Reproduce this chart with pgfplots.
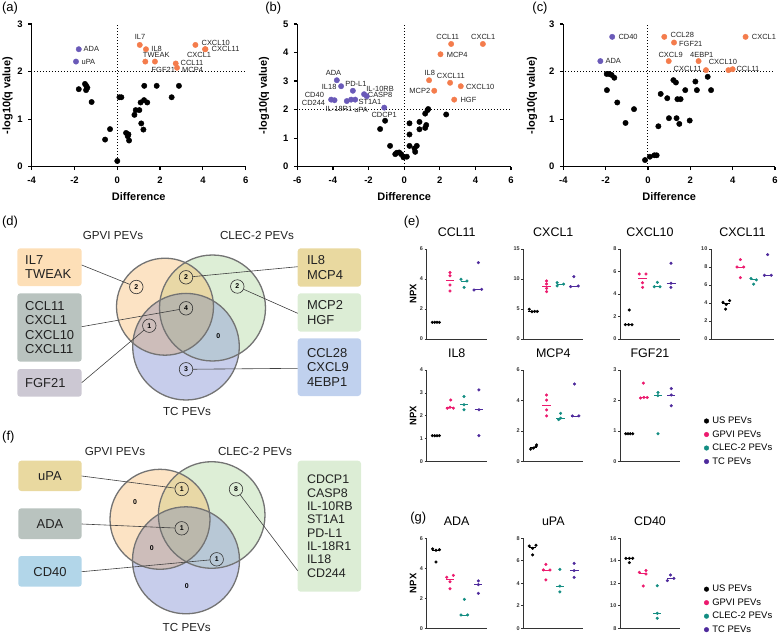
\documentclass[border=0pt]{standalone}
\usepackage{pgfplots}
\pgfplotsset{compat=1.18}
\usepackage{fontspec}
\setmainfont{Liberation Sans}

\definecolor{vor}{HTML}{F47C4C}
\definecolor{vpu}{HTML}{6A5AB8}
\definecolor{gpvi}{HTML}{EC1A6E}
\definecolor{clec}{HTML}{138D82}
\definecolor{tcpu}{HTML}{4E2A9C}
\definecolor{vA}{HTML}{FCE3C4}
\definecolor{vB}{HTML}{DDEED6}
\definecolor{vC}{HTML}{C7CDEB}
\definecolor{vAB}{HTML}{E8D8A6}
\definecolor{vAC}{HTML}{CDBDBA}
\definecolor{vBC}{HTML}{B8C8D6}
\definecolor{vABC}{HTML}{BBB8AC}
\definecolor{bxpeach}{HTML}{FDDFB7}
\definecolor{bxgray}{HTML}{B9C3BF}
\definecolor{bxlav}{HTML}{CCC8D3}
\definecolor{bxkhaki}{HTML}{E9D9A0}
\definecolor{bxgreen}{HTML}{DCEDD5}
\definecolor{bxblue}{HTML}{C0D1EE}
\definecolor{bxsky}{HTML}{B2D6E9}
\definecolor{txt}{HTML}{222222}

\newcommand{\fs}[2]{\fontsize{#1}{#2}\selectfont}

\tikzset{gl/.style={font=\fs{7.5}{8}, text=txt, inner sep=0pt}}

\pgfplotsset{
  volc/.style={scale only axis, anchor=south west, axis lines=left,
    axis line style={-, line width=1.2bp}, tick align=outside,
    major tick length=3.5bp, tick style={line width=1.2bp, black},
    clip=false, /pgf/number format/assume math mode=true,
    tick label style={font=\fs{9.5}{10}\bfseries},
    xticklabel style={yshift=-3.5bp}, yticklabel style={xshift=-2bp},
    label style={font=\fs{11}{12}\bfseries},
    xlabel style={at={(axis description cs:0.5,0)}, anchor=base, yshift=-33.5bp}},
  vyl/.style={ylabel style={at={(axis description cs:#1,0.5)}, anchor=center}},
  vdot/.style={only marks, mark=*, mark size=2.7bp},
  vref/.style={black, line width=1bp, dash pattern=on 1bp off 2bp, no marks},
  dp/.style={scale only axis, anchor=south west, width=60bp, height=90bp,
    axis lines=left, axis line style={-, line width=0.9bp, black!80},
    xmin=0.35, xmax=4.6, xtick=\empty, ymin=0, tick align=outside,
    major tick length=2bp, tick style={line width=0.7bp, black!80},
    clip=false, /pgf/number format/assume math mode=true,
    yticklabel style={font=\fs{5.5}{6}\bfseries, text=black!80, inner sep=1.5bp},
    title style={font=\fs{12.5}{14}, at={(axis description cs:0.5,1)}, anchor=base, yshift=7bp}},
  npx/.style={ylabel=NPX, ylabel style={font=\fs{9.5}{10}\bfseries,
    at={(axis description cs:-0.228,0.5)}, anchor=center}},
  dpm/.style={only marks, mark=*, mark size=1.35bp},
  dpl/.style={no marks, line width=0.8bp, forget plot},
  dleg/.style={legend style={draw=none, fill=none, font=\fs{9.5}{11},
    row sep=3.4bp, column sep=2.5bp, inner sep=0pt, nodes={inner sep=1bp},
    cells={anchor=west}},
    legend image code/.code={\draw[##1, mark size=2.3bp] plot coordinates {(2bp,0bp)};}}
}

\begin{document}
\begin{tikzpicture}
\path[use as bounding box] (0,0) rectangle (780bp,-633bp);

% ---------------- Venn diagrams ----------------
\begin{scope}[x=1bp,y=-1bp]
\tikzset{numc/.style={circle, draw=black!80, line width=0.6bp, minimum size=13.5bp,
  inner sep=0pt, font=\fs{7}{8}\bfseries},
  conn/.style={line width=0.6bp, black!75},
  vline/.style={draw=black!55, line width=1.3bp},
  bxt/.style={anchor=west, align=left, font=\fs{13}{14.4}, text=txt},
  ttl/.style={font=\fs{11.7}{13}, text=txt}}
\node[font=\fs{13}{14}] at (10,8.3) {(a)};
\node[font=\fs{13}{14}] at (273.3,8.3) {(b)};
\node[font=\fs{13}{14}] at (540,8.3) {(c)};
\node[font=\fs{13}{14}] at (10,222) {(d)};
\node[font=\fs{13}{14}] at (411.7,221.7) {(e)};
\node[font=\fs{13}{14}] at (8.3,436.7) {(f)};
\node[font=\fs{13}{14}] at (418.3,518.3) {(g)};

% (d)
\fill[vA] (165,306.7) circle (48.5);
\fill[vB] (212.5,308) circle (53);
\fill[vC] (186,346.7) circle (53.3);
\begin{scope}\clip (212.5,308) circle (53); \fill[vBC] (186,346.7) circle (53.3);\end{scope}
\begin{scope}\clip (165,306.7) circle (48.5); \fill[vAB] (212.5,308) circle (53);
  \fill[vAC] (186,346.7) circle (53.3);
  \clip (212.5,308) circle (53); \fill[vABC] (186,346.7) circle (53.3);\end{scope}
\draw[vline] (165,306.7) circle (48.5);
\draw[vline] (212.5,308) circle (53);
\draw[vline] (186,346.7) circle (53.3);
\node[ttl] at (113,235) {GPVI PEVs};
\node[ttl] at (257,235) {CLEC-2 PEVs};
\node[ttl] at (187,411) {TC PEVs};
\node[numc] (d1) at (136.3,287) {2};
\node[numc] (d2) at (186,277.3) {2};
\node[numc] (d3) at (237.3,286.5) {2};
\node[numc] (d4) at (186,308.3) {4};
\node[numc] (d5) at (149.3,325.7) {1};
\node[font=\fs{7}{8}\bfseries] at (218.3,336) {0};
\node[numc] (d7) at (186,369.3) {3};
\fill[bxpeach, rounded corners=3bp] (17.3,248.3) rectangle (81.7,286);
\fill[bxgray, rounded corners=3bp] (17.3,293.3) rectangle (81.7,361.7);
\fill[bxlav, rounded corners=3bp] (17.3,369) rectangle (81.7,396.7);
\fill[bxkhaki, rounded corners=3bp] (297.7,248.3) rectangle (361,286.7);
\fill[bxgreen, rounded corners=3bp] (297.7,293.3) rectangle (361,331.7);
\fill[bxblue, rounded corners=3bp] (297.7,338.3) rectangle (361,396);
\node[bxt] at (21.7,267.2) {IL7\\TWEAK};
\node[bxt] at (21.7,327.5) {CCL11\\CXCL1\\CXCL10\\CXCL11};
\node[bxt] at (21.7,383) {FGF21};
\node[bxt] at (303.5,267.5) {IL8\\MCP4};
\node[bxt] at (303.5,312.5) {MCP2\\HGF};
\node[bxt] at (303.5,367.2) {CCL28\\CXCL9\\4EBP1};
\draw[conn] (81.7,265) -- (d1);
\draw[conn] (81.7,326.7) -- (d4);
\draw[conn] (81.7,382.7) -- (d5);
\draw[conn] (297.7,266.7) -- (d2);
\draw[conn] (297.7,313.3) -- (d3);
\draw[conn] (297.7,368.3) -- (d7);

% (f)
\fill[vA] (160,519.3) circle (50);
\fill[vB] (211.7,515) circle (53.3);
\fill[vC] (186,560.3) circle (53.5);
\begin{scope}\clip (211.7,515) circle (53.3); \fill[vBC] (186,560.3) circle (53.5);\end{scope}
\begin{scope}\clip (160,519.3) circle (50); \fill[vAB] (211.7,515) circle (53.3);
  \fill[vAC] (186,560.3) circle (53.5);
  \clip (211.7,515) circle (53.3); \fill[vABC] (186,560.3) circle (53.5);\end{scope}
\draw[vline] (160,519.3) circle (50);
\draw[vline] (211.7,515) circle (53.3);
\draw[vline] (186,560.3) circle (53.5);
\node[ttl] at (115,451.7) {GPVI PEVs};
\node[ttl] at (255,451.7) {CLEC-2 PEVs};
\node[ttl] at (186.7,627) {TC PEVs};
\node[numc] (f1) at (181.7,489) {1};
\node[numc] (f2) at (181.7,528.3) {1};
\node[numc] (f3) at (216.7,559.3) {1};
\node[numc] (f4) at (236,489.3) {8};
\node[font=\fs{7}{8}\bfseries] at (135,501.7) {0};
\node[font=\fs{7}{8}\bfseries] at (151.7,548.3) {0};
\node[font=\fs{7}{8}\bfseries] at (186.7,586) {0};
\fill[bxkhaki, rounded corners=3bp] (18.3,460.7) rectangle (81.7,491);
\fill[bxgray, rounded corners=3bp] (18.3,508.3) rectangle (81.7,539);
\fill[bxsky, rounded corners=3bp] (18.3,556) rectangle (81.7,586.7);
\fill[bxgreen, rounded corners=3bp] (297.7,460.7) rectangle (361,591.7);
\node[font=\fs{13}{14.4}, text=txt] at (50,476) {uPA};
\node[font=\fs{13}{14.4}, text=txt] at (50,524) {ADA};
\node[font=\fs{13}{14.4}, text=txt] at (50,571.7) {CD40};
\node[bxt, font=\fs{12.5}{13.4}] at (303.5,526.2) {CDCP1\\CASP8\\IL-10RB\\ST1A1\\PD-L1\\IL-18R1\\IL18\\CD244};
\draw[conn] (81.7,476) -- (f1);
\draw[conn] (81.7,524) -- (f2);
\draw[conn] (81.7,571.7) -- (f3);
\draw[conn] (297.7,570.7) -- (f4);
\end{scope}

% ---------------- (a) volcano ----------------
\begin{axis}[volc, vyl=-0.113, at={(31.7bp,-166.7bp)}, width=214bp, height=142.7bp,
  xmin=-4, xmax=6, ymin=0, ymax=3, xtick={-4,-2,0,2,4,6}, ytick={0,1,2,3},
  xlabel=Difference, ylabel={-log10(q value)}]
\addplot[vref] coordinates {(-3.9,2)(6,2)};
\addplot[vref] coordinates {(0,0)(0,3)};
\addplot[vdot, black] coordinates {(-1.80,1.63)(-1.51,1.74)(-1.45,1.70)(-1.40,1.66)(-1.46,1.61)
  (-1.20,1.36)(-0.34,0.79)(-0.57,0.57)(0.0,0.12)(0.10,1.46)(0.19,1.46)(0.41,0.71)(0.52,0.68)
  (0.49,0.64)(0.55,0.55)(0.80,1.09)(0.86,1.19)(1.03,1.19)(1.09,1.35)(1.25,1.40)(1.40,1.35)
  (1.26,1.70)(1.84,1.70)(2.88,1.70)(2.54,1.46)(1.12,0.91)(1.22,0.78)};
\addplot[vdot, vor] coordinates {(1.05,2.56)(1.34,2.47)(1.31,2.21)(1.76,2.21)(3.65,2.56)
  (4.10,2.47)(4.12,2.47)(2.73,2.17)(2.79,2.08)};
\addplot[vdot, vpu] coordinates {(-1.80,2.47)(-1.93,2.21)};
\node[gl] at (axis cs:1.06,2.73) {IL7};
\node[gl] at (axis cs:1.84,2.48) {IL8};
\node[gl] at (axis cs:1.82,2.35) {TWEAK};
\node[gl] at (axis cs:2.15,2.04) {FGF21};
\node[gl] at (axis cs:4.60,2.60) {CXCL10};
\node[gl] at (axis cs:5.06,2.47) {CXCL11};
\node[gl] at (axis cs:3.82,2.35) {CXCL1};
\node[gl] at (axis cs:3.49,2.19) {CCL11};
\node[gl] at (axis cs:3.52,2.04) {MCP4};
\node[gl] at (axis cs:-1.21,2.47) {ADA};
\node[gl] at (axis cs:-1.35,2.21) {uPA};
\end{axis}

% ---------------- (b) volcano ----------------
\begin{axis}[volc, vyl=-0.155, at={(297.3bp,-166.7bp)}, width=213.7bp, height=142.7bp,
  xmin=-6, xmax=6, ymin=0, ymax=5, xtick={-6,-4,-2,0,2,4,6}, ytick={0,1,2,3,4,5},
  xlabel=Difference, ylabel={-log10(q value)}]
\addplot[vref] coordinates {(-5.9,2)(6,2)};
\addplot[vref] coordinates {(0,0)(0,5)};
\addplot[vdot, black] coordinates {(-1.07,1.61)(-1.35,1.32)(-0.79,0.73)(-0.41,0.49)(-0.28,0.50)
  (-0.17,0.44)(-0.5,0.44)(-0.04,0.33)(0.15,0.35)(0.30,1.52)(0.30,1.13)(0.30,0.73)(0.58,0.64)
  (0.71,0.73)(0.62,0.52)(0.86,1.57)(0.86,1.31)(1.18,1.36)(1.24,1.46)(1.18,1.86)(1.31,1.98)
  (1.35,2.02)(2.36,1.83)};
\addplot[vdot, vor] coordinates {(2.64,4.30)(4.42,4.30)(2.04,3.94)(1.40,3.03)(2.58,2.94)
  (3.18,2.82)(1.69,2.66)(2.81,2.35)};
\addplot[vdot, vpu] coordinates {(-3.78,3.03)(-3.54,2.82)(-2.88,2.66)(-2.25,2.54)(-2.10,2.47)
  (-4.10,2.35)(-3.91,2.33)(-3.22,2.30)(-2.98,2.35)(-2.75,2.35)(-1.12,2.07)};
\node[gl] at (axis cs:-3.97,3.29) {ADA};
\node[gl] at (axis cs:-4.21,2.80) {IL18};
\node[gl] at (axis cs:-2.71,2.89) {PD-L1};
\node[gl] at (axis cs:-1.35,2.72) {IL-10RB};
\node[gl] at (axis cs:-1.35,2.50) {CASP8};
\node[gl] at (axis cs:-5.04,2.53) {CD40};
\node[gl] at (axis cs:-5.09,2.25) {CD244};
\node[gl] at (axis cs:-3.66,2.03) {IL-18R1};
\node[gl] at (axis cs:-2.42,1.98) {uPA};
\node[gl] at (axis cs:-1.92,2.27) {ST1A1};
\node[gl] at (axis cs:-1.12,1.81) {CDCP1};
\node[gl] at (axis cs:2.45,4.55) {CCL11};
\node[gl] at (axis cs:4.44,4.55) {CXCL1};
\node[gl] at (axis cs:2.98,3.93) {MCP4};
\node[gl] at (axis cs:1.44,3.29) {IL8};
\node[gl] at (axis cs:2.62,3.17) {CXCL11};
\node[gl] at (axis cs:4.27,2.80) {CXCL10};
\node[gl] at (axis cs:0.88,2.66) {MCP2};
\node[gl] at (axis cs:3.61,2.35) {HGF};
\end{axis}

% ---------------- (c) volcano ----------------
\begin{axis}[volc, vyl=-0.147, at={(563.3bp,-166.7bp)}, width=211.7bp, height=142.7bp,
  xmin=-4, xmax=6, ymin=0, ymax=3, xtick={-4,-2,0,2,4,6}, ytick={0,1,2,3},
  xlabel=Difference, ylabel={-log10(q value)}]
\addplot[vref] coordinates {(-3.9,2)(6,2)};
\addplot[vref] coordinates {(0,0)(0,3)};
\addplot[vdot, black] coordinates {(-1.95,1.95)(-1.83,1.95)(-1.72,1.93)(-1.59,1.87)(-1.94,1.61)
  (-1.45,1.35)(-0.66,1.21)(-1.06,0.92)(-0.14,0.14)(0.09,0.21)(0.30,0.24)(0.41,0.24)(0.49,0.85)
  (0.60,1.53)(0.91,1.44)(0.99,1.02)(1.20,1.82)(1.32,1.77)(1.39,1.42)(1.54,1.42)(1.35,1.02)
  (1.48,0.90)(1.76,1.61)(1.97,0.97)(2.24,1.79)(2.31,1.61)(2.82,1.89)(2.98,1.61)};
\addplot[vdot, vor] coordinates {(0.77,2.73)(1.23,2.61)(4.61,2.73)(0.98,2.22)(2.39,2.22)
  (2.74,2.03)(3.80,2.03)(4.0,2.05)};
\addplot[vdot, vpu] coordinates {(-1.69,2.73)(-2.25,2.22)};
\node[gl] at (axis cs:-0.94,2.73) {CD40};
\node[gl] at (axis cs:-1.64,2.22) {ADA};
\node[gl] at (axis cs:1.62,2.77) {CCL28};
\node[gl] at (axis cs:2.02,2.59) {FGF21};
\node[gl] at (axis cs:5.48,2.73) {CXCL1};
\node[gl] at (axis cs:1.07,2.35) {CXCL9};
\node[gl] at (axis cs:2.54,2.35) {4EBP1};
\node[gl] at (axis cs:3.54,2.21) {CXCL10};
\node[gl] at (axis cs:1.87,2.05) {CXCL11};
\node[gl] at (axis cs:4.72,2.05) {CCL11};
\end{axis}

% ---------------- (e) dot plots ----------------
\begin{axis}[dp, npx, at={(426.7bp,-339bp)}, ymax=6, ytick={0,2,4,6}, title=CCL11]
\addplot[dpm, black] coordinates {(0.75,1.11)(0.92,1.11)(1.08,1.11)(1.25,1.11)};
\addplot[dpm, gpvi] coordinates {(2,4.44)(2,4.22)(2,3.6)(2,3.2)};
\addplot[dpm, clec] coordinates {(2.78,3.98)(3.2,3.87)(3.0,3.44)};
\addplot[dpm, tcpu] coordinates {(4.01,5.09)(3.7,3.27)(4.24,3.31)};
\addplot[dpl, black] coordinates {(0.7,1.11)(1.3,1.11)};
\addplot[dpl, gpvi] coordinates {(1.7,3.91)(2.3,3.91)};
\addplot[dpl, clec] coordinates {(2.75,3.87)(3.25,3.87)};
\addplot[dpl, tcpu] coordinates {(3.7,3.31)(4.3,3.31)};
\end{axis}

\begin{axis}[dp, at={(523.3bp,-339bp)}, ymax=15, ytick={0,5,10,15}, title=CXCL1]
\addplot[dpm, black] coordinates {(0.77,4.95)(0.96,4.55)(1.15,4.6)(1.34,4.6)};
\addplot[dpm, gpvi] coordinates {(2,9.67)(2,9.17)(2,8.44)(2,7.89)};
\addplot[dpm, clec] coordinates {(2.75,9.4)(2.75,8.85)(3.2,9.15)};
\addplot[dpm, tcpu] coordinates {(3.93,10.39)(3.7,8.72)(4.24,8.83)};
\addplot[dpl, black] coordinates {(0.7,4.6)(1.35,4.6)};
\addplot[dpl, gpvi] coordinates {(1.7,8.8)(2.3,8.8)};
\addplot[dpl, clec] coordinates {(2.75,9.15)(3.2,9.15)};
\addplot[dpl, tcpu] coordinates {(3.7,8.8)(4.25,8.8)};
\end{axis}

\begin{axis}[dp, at={(620bp,-339bp)}, ymax=8, ytick={0,2,4,6,8}, title=CXCL10]
\addplot[dpm, black] coordinates {(1.01,2.58)(0.73,1.27)(0.96,1.27)(1.2,1.27)};
\addplot[dpm, gpvi] coordinates {(1.72,5.78)(2.19,5.78)(1.95,5.0)(1.95,4.59)};
\addplot[dpm, clec] coordinates {(3.0,5.04)(2.78,4.65)(3.18,4.65)};
\addplot[dpm, tcpu] coordinates {(3.96,6.73)(3.96,4.95)(3.96,4.59)};
\addplot[dpl, black] coordinates {(0.7,1.27)(1.25,1.27)};
\addplot[dpl, gpvi] coordinates {(1.65,5.35)(2.25,5.35)};
\addplot[dpl, clec] coordinates {(2.75,4.65)(3.22,4.65)};
\addplot[dpl, tcpu] coordinates {(3.65,4.95)(4.3,4.95)};
\end{axis}

\begin{axis}[dp, at={(711bp,-339bp)}, width=63bp, xmax=4.81, ymax=10, ytick={0,2,4,6,8,10}, title=CXCL11]
\addplot[dpm, black] coordinates {(1.2,4.09)(1.67,4.27)(1.43,3.83)(1.38,3.32)};
\addplot[dpm, gpvi] coordinates {(2.43,8.83)(2.19,8.0)(2.66,8.0)(2.43,6.82)};
\addplot[dpm, clec] coordinates {(3.18,6.72)(3.56,6.57)(3.37,6.09)};
\addplot[dpm, tcpu] coordinates {(4.36,9.38)(4.13,7.08)(4.62,7.08)};
\addplot[dpl, black] coordinates {(1.15,3.96)(1.7,3.96)};
\addplot[dpl, gpvi] coordinates {(2.13,8.0)(2.72,8.0)};
\addplot[dpl, clec] coordinates {(3.15,6.57)(3.6,6.57)};
\addplot[dpl, tcpu] coordinates {(4.1,7.08)(4.65,7.08)};
\end{axis}

\begin{axis}[dp, npx, at={(426.7bp,-461.5bp)}, height=91.5bp, ymax=4, ytick={0,1,2,3,4}, title=IL8]
\addplot[dpm, black] coordinates {(0.75,1.13)(0.92,1.13)(1.08,1.13)(1.25,1.13)};
\addplot[dpm, gpvi] coordinates {(1.81,2.33)(2.0,2.37)(2.24,2.33)(2.05,2.69)};
\addplot[dpm, clec] coordinates {(2.99,2.84)(2.99,2.48)(2.99,2.26)};
\addplot[dpm, tcpu] coordinates {(4.05,3.13)(4.05,2.26)(4.05,1.13)};
\addplot[dpl, black] coordinates {(0.7,1.13)(1.3,1.13)};
\addplot[dpl, gpvi] coordinates {(1.7,2.38)(2.3,2.38)};
\addplot[dpl, clec] coordinates {(2.7,2.48)(3.3,2.48)};
\addplot[dpl, tcpu] coordinates {(3.75,2.26)(4.35,2.26)};
\end{axis}

\begin{axis}[dp, at={(523.3bp,-461.5bp)}, height=91.5bp, ymax=6, ytick={0,2,4,6}, title=MCP4]
\addplot[dpm, black] coordinates {(0.87,0.81)(1.06,0.88)(1.25,0.98)(1.29,1.09)};
\addplot[dpm, gpvi] coordinates {(2,4.36)(2,4.03)(2,3.38)(2,2.99)};
\addplot[dpm, clec] coordinates {(2.99,3.16)(2.99,2.84)(2.85,2.75)};
\addplot[dpm, tcpu] coordinates {(3.98,5.08)(3.82,2.99)(4.29,2.99)};
\addplot[dpl, black] coordinates {(0.8,0.93)(1.3,0.93)};
\addplot[dpl, gpvi] coordinates {(1.7,3.65)(2.3,3.65)};
\addplot[dpl, clec] coordinates {(2.7,2.84)(3.3,2.84)};
\addplot[dpl, tcpu] coordinates {(3.75,2.99)(4.3,2.99)};
\end{axis}

\begin{axis}[dp, dleg, at={(620bp,-461.5bp)}, height=91.5bp, ymax=3, ytick={0,1,2,3}, title=FGF21,
  legend style={at={(1.4,0.50)}, anchor=north west}]
\addplot[dpm, black] coordinates {(0.75,0.91)(0.92,0.91)(1.08,0.91)(1.25,0.91)};
\addlegendentry{US PEVs}
\addplot[dpm, gpvi] coordinates {(2.0,2.57)(1.8,2.08)(2.04,2.1)(2.28,2.1)};
\addlegendentry{GPVI PEVs}
\addplot[dpm, clec] coordinates {(3.04,2.26)(3.04,2.16)(3.04,0.91)};
\addlegendentry{CLEC-2 PEVs}
\addplot[dpm, tcpu] coordinates {(3.98,2.39)(3.98,2.18)(3.98,1.83)};
\addlegendentry{TC PEVs}
\addplot[dpl, black] coordinates {(0.7,0.91)(1.3,0.91)};
\addplot[dpl, gpvi] coordinates {(1.75,2.09)(2.3,2.09)};
\addplot[dpl, clec] coordinates {(2.75,2.16)(3.3,2.16)};
\addplot[dpl, tcpu] coordinates {(3.7,2.18)(4.28,2.18)};
\end{axis}

% ---------------- (g) dot plots ----------------
\begin{axis}[dp, npx, at={(426.7bp,-628.3bp)}, ymax=6, ytick={0,2,4,6}, title=ADA]
\addplot[dpm, black] coordinates {(0.77,5.29)(1.01,5.2)(1.25,5.24)(1.01,4.42)};
\addplot[dpm, gpvi] coordinates {(1.77,3.4)(2.24,3.53)(2.0,3.11)(2.0,2.64)};
\addplot[dpm, clec] coordinates {(3.02,1.93)(2.78,0.89)(3.25,0.89)};
\addplot[dpm, tcpu] coordinates {(4.01,3.16)(4.01,2.91)(4.01,2.33)};
\addplot[dpl, black] coordinates {(0.7,5.22)(1.3,5.22)};
\addplot[dpl, gpvi] coordinates {(1.7,3.27)(2.3,3.27)};
\addplot[dpl, clec] coordinates {(2.75,0.89)(3.28,0.89)};
\addplot[dpl, tcpu] coordinates {(3.72,2.91)(4.3,2.91)};
\end{axis}

\begin{axis}[dp, at={(523.3bp,-628.3bp)}, ymax=8, ytick={0,2,4,6,8}, title=uPA]
\addplot[dpm, black] coordinates {(0.77,7.32)(1.25,7.38)(1.01,7.11)(1.01,6.52)};
\addplot[dpm, gpvi] coordinates {(1.95,5.69)(1.77,5.19)(2.24,5.19)(1.95,4.3)};
\addplot[dpm, clec] coordinates {(2.94,5.24)(2.94,3.76)(2.94,3.23)};
\addplot[dpm, tcpu] coordinates {(3.95,5.78)(3.95,5.13)(3.95,4.53)};
\addplot[dpl, black] coordinates {(0.75,7.2)(1.28,7.2)};
\addplot[dpl, gpvi] coordinates {(1.7,5.19)(2.28,5.19)};
\addplot[dpl, clec] coordinates {(2.65,3.76)(3.22,3.76)};
\addplot[dpl, tcpu] coordinates {(3.65,5.13)(4.28,5.13)};
\end{axis}

\begin{axis}[dp, dleg, at={(620bp,-628.3bp)}, ymin=8, ymax=16, ytick={8,10,12,14,16}, title=CD40,
  legend style={at={(1.4,0.493)}, anchor=north west}]
\addplot[dpm, black] coordinates {(0.77,14.22)(1.01,14.22)(1.25,14.22)(1.01,13.84)};
\addlegendentry{US PEVs}
\addplot[dpm, gpvi] coordinates {(1.72,12.98)(2.19,13.13)(2.19,12.83)(2.0,11.76)};
\addlegendentry{GPVI PEVs}
\addplot[dpm, clec] coordinates {(2.99,11.79)(2.99,9.33)(2.99,8.89)};
\addlegendentry{CLEC-2 PEVs}
\addplot[dpm, tcpu] coordinates {(3.93,12.74)(4.17,12.44)(3.7,12.24)};
\addlegendentry{TC PEVs}
\addplot[dpl, black] coordinates {(0.72,14.22)(1.3,14.22)};
\addplot[dpl, gpvi] coordinates {(1.72,12.92)(2.22,12.92)};
\addplot[dpl, clec] coordinates {(2.7,9.33)(3.28,9.33)};
\addplot[dpl, tcpu] coordinates {(3.7,12.44)(4.25,12.44)};
\end{axis}
\end{tikzpicture}
\end{document}
